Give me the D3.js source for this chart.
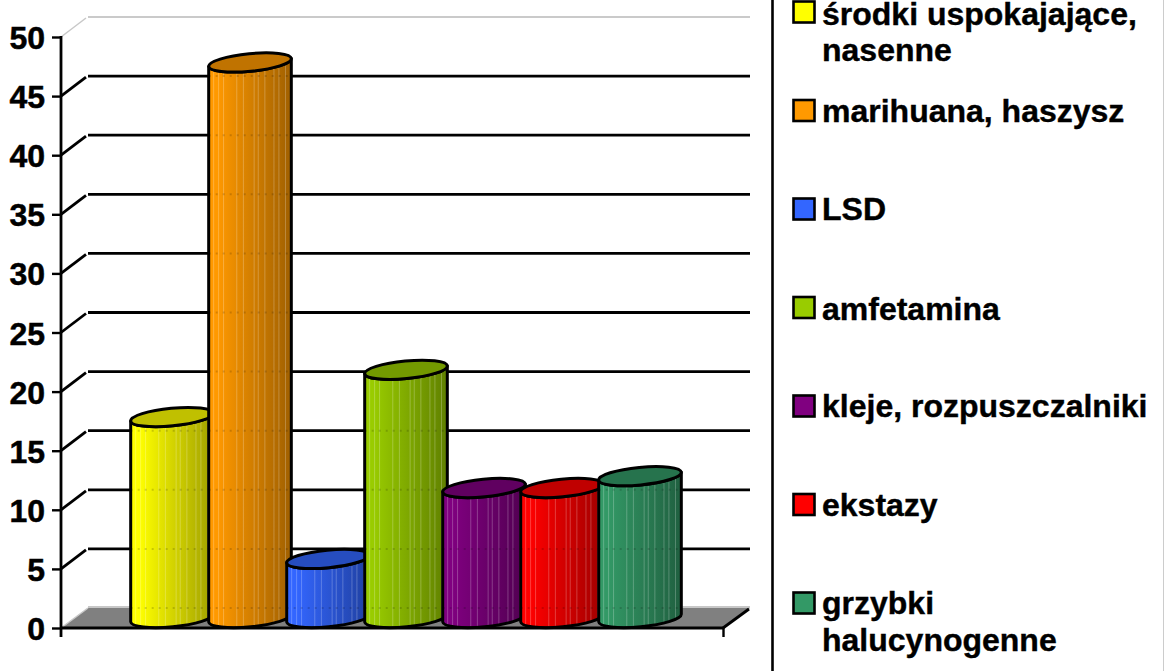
<!DOCTYPE html>
<html><head><meta charset="utf-8">
<script src="https://cdn.jsdelivr.net/npm/d3@7/dist/d3.min.js"></script>
<style>html,body{margin:0;padding:0;background:#fff}svg{display:block}</style>
</head><body><div id="c"></div>
<script>
const categories = ["środki uspokajające, nasenne","marihuana, haszysz","LSD","amfetamina","kleje, rozpuszczalniki","ekstazy","grzybki halucynogenne"];
const values = [17,47,5,21,11,11,12];
const colors = ["#ffff00","#ff9900","#3366ff","#99cc00","#800080","#ff0000","#339966"];
const yTicks = [0,5,10,15,20,25,30,35,40,45,50];
const legendLines = [["środki uspokajające,","nasenne"],["marihuana, haszysz"],["LSD"],["amfetamina"],["kleje, rozpuszczalniki"],["ekstazy"],["grzybki","halucynogenne"]];
const legendSlots = [0,1,2,3,4,5,6];
const stripeFractions = [.06,.12,.18,.34,.42,.55,.60,.68,.79,.85,.93];

const W=1164,H=671;
const svg=d3.select("#c").append("svg").attr("width",W).attr("height",H).attr("viewBox",[0,0,W,H]);
const font="'Liberation Sans',Arial,sans-serif";
const y=d3.scaleLinear().domain([0,50]).range([628,37]);
const x=d3.scaleBand().domain(categories).range([133,679]);
const dx=27,dy=20,xL=61,xR=723;
const rx=41.5,ry=8.8,tilt=-5.5;
const tipX=rx*Math.cos(tilt*Math.PI/180),tipY=-rx*Math.sin(tilt*Math.PI/180);
const defs=svg.append("defs");

// floor
svg.append("path").attr("d",d3.line()([[xL,y(0)],[xL+dx,y(0)-dy],[xR+dx,y(0)-dy],[xR,y(0)]])).attr("fill","#808080");
svg.append("line").attr("x1",xL+dx).attr("x2",xR+dx).attr("y1",y(0)-dy-1).attr("y2",y(0)-dy-1).attr("stroke","#b4b4b4").attr("stroke-width",1.5);
svg.append("line").attr("x1",xL).attr("y1",y(0)).attr("x2",xL+dx).attr("y2",y(0)-dy).attr("stroke","#c8c8c8").attr("stroke-width",1.5);
svg.append("line").attr("x1",xR).attr("y1",y(0)).attr("x2",xR+dx-1).attr("y2",y(0)-dy+1).attr("stroke","#000").attr("stroke-width",2.8);

// back-wall grid and side diagonals
const grid=svg.append("g");
yTicks.filter(t=>t>0).forEach(t=>{
  const c=t===50?"#b8b8b8":"#000",sw=t===50?1.5:2.8;
  grid.append("line").attr("x1",xL+dx).attr("x2",xR+dx).attr("y1",y(t)-dy).attr("y2",y(t)-dy).attr("stroke",c).attr("stroke-width",sw);
  grid.append("line").attr("x1",xL).attr("y1",y(t)).attr("x2",xL+dx-2).attr("y2",y(t)-dy+1).attr("stroke",t===50?"#c8c8c8":"#000").attr("stroke-width",sw);
});

// cylinders
const bars=svg.append("g");
categories.forEach((cat,i)=>{
  const base=d3.color(colors[i]);
  const gid="g"+i;
  const gr=defs.append("linearGradient").attr("id",gid);
  gr.append("stop").attr("offset","0").attr("stop-color",base.formatHex());
  gr.append("stop").attr("offset",".1").attr("stop-color",base.formatHex());
  gr.append("stop").attr("offset","1").attr("stop-color",base.darker(1.3).formatHex());
  const cx=x(cat)+x.bandwidth()/2;
  const yb=y(0)-10, yt=y(values[i])-10;
  const body=`M${cx-tipX},${yt+tipY}L${cx-tipX},${yb+tipY}A${rx},${ry} ${tilt} 0 0 ${cx+tipX},${yb-tipY}L${cx+tipX},${yt-tipY}A${rx},${ry} ${tilt} 0 1 ${cx-tipX},${yt+tipY}Z`;
  const g=bars.append("g");
  g.append("path").attr("d",body).attr("fill",`url(#${gid})`);
  const cid="c"+i;
  defs.append("clipPath").attr("id",cid).append("path").attr("d",body);
  const inner=g.append("g").attr("clip-path",`url(#${cid})`);
  stripeFractions.forEach(f=>{
    const sx=cx-tipX+f*2*tipX;
    inner.append("line").attr("x1",sx).attr("x2",sx).attr("y1",yt-12).attr("y2",yb+12).attr("stroke","#fff").attr("stroke-opacity",.24).attr("stroke-width",1);
  });
  yTicks.filter(t=>t<50).forEach(t=>{
    inner.append("line").attr("x1",cx-tipX).attr("x2",cx+tipX).attr("y1",y(t)-dy).attr("y2",y(t)-dy)
      .attr("stroke","#000").attr("stroke-opacity",.16).attr("stroke-width",2).attr("stroke-dasharray","2 5");
  });
  g.append("path").attr("d",body).attr("fill","none").attr("stroke","#000").attr("stroke-width",3).attr("stroke-linejoin","round");
  g.append("ellipse").attr("cx",0).attr("cy",0).attr("rx",rx).attr("ry",ry)
    .attr("transform",`translate(${cx},${yt}) rotate(${tilt})`)
    .attr("fill",base.darker(.8).formatHex()).attr("stroke","#000").attr("stroke-width",3);
});

// axes
const ax=svg.append("g").attr("transform",`translate(${xL},0)`)
  .call(d3.axisLeft(y).tickValues(yTicks).tickSize(9).tickPadding(7));
ax.selectAll("path").remove();
ax.selectAll("line").attr("stroke","#000").attr("stroke-width",2.4);
ax.selectAll("text").attr("font-family",font).attr("font-weight","bold").attr("font-size",32).attr("fill","#000").attr("stroke","#000").attr("stroke-width",.5).attr("dy","0.36em");
svg.append("line").attr("x1",xL).attr("x2",xL).attr("y1",y(50)-1).attr("y2",637).attr("stroke","#000").attr("stroke-width",2.8);
svg.append("line").attr("x1",xL).attr("x2",xR).attr("y1",y(0)).attr("y2",y(0)).attr("stroke","#000").attr("stroke-width",2.8);
svg.append("line").attr("x1",xR+.5).attr("x2",xR+.5).attr("y1",y(0)).attr("y2",637).attr("stroke","#000").attr("stroke-width",2.4);

// legend
svg.append("line").attr("x1",772.5).attr("x2",772.5).attr("y1",0).attr("y2",H).attr("stroke","#000").attr("stroke-width",2.6);
svg.append("line").attr("x1",1163.5).attr("x2",1163.5).attr("y1",0).attr("y2",H).attr("stroke","#ccc").attr("stroke-width",1);
const legendY=d3.scaleLinear().domain([0,6]).range([12,603]);
const baseAdj=[12.5,11.5,10.5,12,11,11.5,11];
const lg=svg.append("g");
legendSlots.forEach(i=>{
  const yc=legendY(i);
  lg.append("rect").attr("x",793.5).attr("y",yc-10.5).attr("width",21).attr("height",21).attr("fill",colors[i]).attr("stroke","#000").attr("stroke-width",2.6);
  const t=lg.append("text").attr("font-family",font).attr("font-weight","bold").attr("font-size",32).attr("fill","#000").attr("stroke","#000").attr("stroke-width",.4);
  legendLines[i].forEach((s,k)=>{
    t.append("tspan").attr("x",822).attr("y",yc+baseAdj[i]+k*36.5).text(s);
  });
});
</script></body></html>
